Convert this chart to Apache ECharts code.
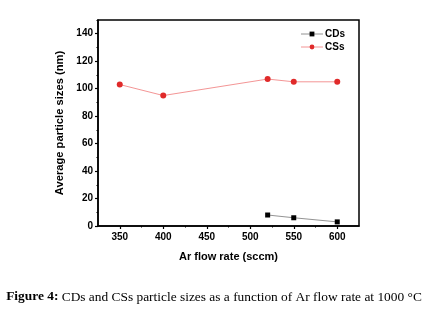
<!DOCTYPE html>
<html>
<head>
<meta charset="utf-8">
<script src="https://cdn.jsdelivr.net/npm/echarts@6/dist/echarts.min.js"></script>
<style>
  html, body { margin: 0; padding: 0; background: #fff; }
  #main { width: 432px; height: 318px; }
</style>
</head>
<body>
<div id="main"></div>
<script>
// data
var cdsFlow = [520, 550, 600];
var cdsSize = [8, 6, 3];
var cssFlow = [350, 400, 520, 550, 600];
var cssSize = [103, 95, 107, 105, 105];
var xTicks = [350, 400, 450, 500, 550, 600];
var xMinor = [375, 425, 475, 525, 575];
var yTicks = [0, 20, 40, 60, 80, 100, 120, 140];
var yMinor = [10, 30, 50, 70, 90, 110, 130, 150];

function pairs(xs, ys) {
  return xs.map(function (x, i) { return [x, ys[i]]; });
}

var chart = echarts.init(document.getElementById('main'), null, { renderer: 'canvas' });
var fontF = '"Liberation Sans", Arial, sans-serif';
var serif = '"Liberation Serif", "Times New Roman", serif';

var option = {
  animation: false,
  grid: {
    left: 98, right: 73, top: 20, bottom: 92,
    show: true, borderColor: '#000', borderWidth: 1.5, backgroundColor: 'transparent'
  },
  legend: {
    right: 82, top: 24,
    orient: 'vertical',
    itemWidth: 22, itemHeight: 6, itemGap: 3,
    lineStyle: { width: 0.8 },
    textStyle: { fontFamily: fontF, fontWeight: 'bold', fontSize: 10, color: '#000', padding: [0, 0, 0, -3] },
    data: [
      { name: 'CDs' },
      { name: 'CSs' }
    ]
  },
  xAxis: [{
    type: 'value', min: 325, max: 625,
    splitLine: { show: false },
    axisLine: { lineStyle: { color: '#000', width: 1.5 } },
    axisTick: { customValues: xTicks, length: 3, lineStyle: { color: '#000', width: 1.2 } },
    axisLabel: {
      customValues: xTicks, margin: 6,
      fontFamily: fontF, fontWeight: 'bold', fontSize: 10, color: '#000'
    },
    name: 'Ar flow rate (sccm)', nameLocation: 'middle', nameGap: 25,
    nameTextStyle: { fontFamily: fontF, fontWeight: 'bold', fontSize: 11, color: '#000' }
  }, {
    type: 'value', min: 325, max: 625, position: 'bottom',
    splitLine: { show: false },
    axisLine: { show: false },
    axisTick: { customValues: xMinor, length: 1.5, lineStyle: { color: '#000', width: 1 } },
    axisLabel: { show: false }
  }],
  yAxis: [{
    type: 'value', min: 0, max: 150,
    splitLine: { show: false },
    axisLine: { show: true, lineStyle: { color: '#000', width: 1.5 } },
    axisTick: { show: true, customValues: yTicks, length: 3, lineStyle: { color: '#000', width: 1.2 } },
    axisLabel: {
      customValues: yTicks, margin: 5,
      fontFamily: fontF, fontWeight: 'bold', fontSize: 10, color: '#000'
    },
    name: 'Average particle sizes (nm)', nameLocation: 'middle', nameGap: 27,
    nameTextStyle: { fontFamily: fontF, fontWeight: 'bold', fontSize: 11.2, color: '#000' }
  }, {
    type: 'value', min: 0, max: 150, position: 'left',
    splitLine: { show: false },
    axisLine: { show: false },
    axisTick: { show: true, customValues: yMinor, length: 1.5, lineStyle: { color: '#000', width: 1 } },
    axisLabel: { show: false }
  }],
  series: [{
    name: 'CDs', type: 'line',
    data: pairs(cdsFlow, cdsSize),
    symbol: 'rect', symbolSize: 5,
    itemStyle: { color: '#000' },
    lineStyle: { color: '#777', width: 0.8 }
  }, {
    name: 'CSs', type: 'line',
    data: pairs(cssFlow, cssSize),
    symbol: 'circle', symbolSize: 6,
    itemStyle: { color: '#e02a2a' },
    lineStyle: { color: '#f07a7a', width: 0.8 }
  }],
  graphic: [{
    type: 'text', x: 214, y: 297,
    style: {
      text: '{b|Figure 4:} CDs and CSs particle sizes as a function of Ar flow rate at 1000 °C',
      rich: {
        b: { fontFamily: serif, fontWeight: 'bold', fontSize: 13.4, fill: '#000' }
      },
      align: 'center', verticalAlign: 'middle',
      fontFamily: serif, fontSize: 13.4, fill: '#000'
    }
  }]
};
chart.setOption(option);
</script>
</body>
</html>
